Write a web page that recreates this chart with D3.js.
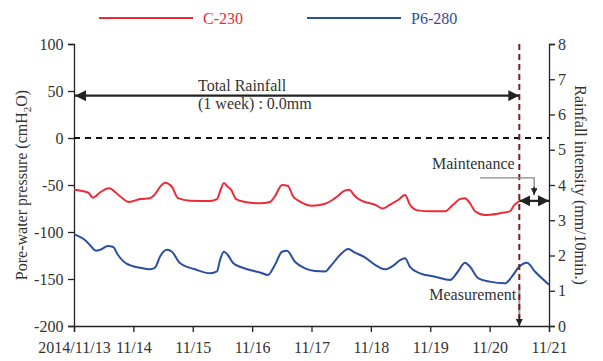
<!DOCTYPE html>
<html>
<head>
<meta charset="utf-8">
<script src="https://cdn.jsdelivr.net/npm/d3@7"></script>
<style>
  body { margin: 0; background: #fff; }
  text { font-family: "Liberation Serif", "DejaVu Serif", serif; }
</style>
</head>
<body>
<script>
// hours after 2014/11/13 00:00
const redHours = [0, 5.7, 7.7, 10.5, 14.1, 18.6, 22.2, 26.7, 30.7, 32.7, 34.8, 36.8, 39.6, 42, 46.9, 55, 57.8, 59, 60.6, 62.2, 63.5, 65.5, 69.1, 75.2, 79.2, 81.2, 84.1, 86.5, 88.5, 91.4, 96.2, 101.5, 105.5, 109.5, 111.2, 113.6, 116.4, 119.6, 121.7, 124.9, 127.7, 131, 133.8, 135.8, 139, 143.9, 150, 153.2, 156, 158, 160.1, 162.1, 166.1, 172.2, 176.2, 177.8, 180];
const redValues = [-55, -58, -63.5, -58, -53.5, -62, -68, -65, -64, -60, -52, -47.5, -52, -64, -66.7, -67, -65, -57, -48, -52, -55, -65, -68, -69.5, -68, -62, -50, -51, -62, -67.7, -72, -70, -64, -56, -55, -62, -67, -69.5, -71, -75, -71, -66, -60.6, -71, -77, -78, -78, -71, -65, -64, -69.5, -78, -82, -80, -78, -72, -67];

const blueHours = [0, 4.4, 6.5, 8.9, 10.5, 13.7, 15.8, 17.8, 21.4, 26.7, 30.7, 32.7, 34.8, 37.6, 39.6, 42.8, 48.9, 55, 57.8, 59, 60.6, 62.2, 64.3, 67.1, 71.1, 75.2, 78.4, 81.2, 84.1, 86.1, 89.3, 93.4, 97.4, 101.5, 103.5, 107.5, 110.8, 113.6, 117.6, 121.7, 125.7, 128.9, 131.8, 133.8, 135.8, 139.9, 145.9, 152, 155.2, 158, 160.1, 163.3, 168.1, 174.2, 177, 179.9, 183.1, 186.3, 192];
const blueValues = [-102.5, -108.5, -114, -120, -119, -115, -116, -124.5, -134, -138, -139.7, -138, -126, -119, -121, -133, -139.7, -144, -142, -130, -121, -124.5, -133, -137, -140.4, -143, -145.7, -135, -121, -120, -131.6, -138.6, -141.5, -142, -137, -124.5, -118, -122, -127, -135, -139.7, -136, -130, -128, -137, -144, -147.5, -151, -142, -132.6, -137, -149, -152.8, -154.6, -147.5, -137, -132.6, -142, -156];

const seriesNames = ["C-230", "P6-280"];
const seriesColors = ["#ee2a36", "#2a4ea1"];
const xTickLabels = ["2014/11/13", "11/14", "11/15", "11/16", "11/17", "11/18", "11/19", "11/20", "11/21"];
const leftTicks = [100, 50, 0, -50, -100, -150, -200];
const rightTicks = [0, 1, 2, 3, 4, 5, 6, 7, 8];

const measureHour = 180;   // 11/20 12:00
const rainArrowValue = 45;
const maintValue = 3.55;

const W = 603, H = 361;
const margin = {left: 74, right: 54, top: 44, bottom: 35};
const start = new Date(2014, 10, 13);
const toDate = h => new Date(start.getTime() + h * 3600000);

const x = d3.scaleTime().domain([start, new Date(2014, 10, 21)]).range([margin.left, W - margin.right]);
const y = d3.scaleLinear().domain([-200, 100]).range([H - margin.bottom, margin.top]);
const y2 = d3.scaleLinear().domain([0, 8]).range([H - margin.bottom, margin.top]);

const svg = d3.select("body").append("svg").attr("width", W).attr("height", H);

const defs = svg.append("defs");
function marker(id, color) {
  defs.append("marker").attr("id", id)
    .attr("viewBox", "0 0 10 10").attr("refX", 10).attr("refY", 5)
    .attr("markerWidth", 5).attr("markerHeight", 5).attr("orient", "auto-start-reverse")
    .attr("markerUnits", "strokeWidth")
    .append("path").attr("d", "M0,0 L10,5 L0,10 z").attr("fill", color);
}
marker("ah", "#222");

// axes
const xTicks = xTickLabels.map((d, i) => new Date(2014, 10, 13 + i));
const gx = svg.append("g").attr("transform", `translate(0,${H - margin.bottom})`)
  .call(d3.axisBottom(x).tickValues(xTicks).tickFormat((d, i) => xTickLabels[i]).tickSizeOuter(0).tickSize(6));
const gl = svg.append("g").attr("transform", `translate(${margin.left},0)`)
  .call(d3.axisLeft(y).tickValues(leftTicks).tickFormat(d => String(d)).tickSizeOuter(0).tickSize(6));
const gr = svg.append("g").attr("transform", `translate(${W - margin.right},0)`)
  .call(d3.axisRight(y2).tickValues(rightTicks).tickSizeOuter(0).tickSize(6));
[gx, gl, gr].forEach(g => {
  g.selectAll("path, line").attr("stroke", "#222").attr("stroke-width", 1.3);
  g.selectAll("text").attr("font-size", 16).attr("fill", "#333")
    .style("font-family", "'Liberation Serif', serif");
});
gx.selectAll("text").attr("dy", "1.1em");
gl.selectAll("text").attr("dx", "-0.1em");

// zero line
svg.append("line")
  .attr("x1", x.range()[0]).attr("x2", x.range()[1])
  .attr("y1", y(0)).attr("y2", y(0))
  .attr("stroke", "#111").attr("stroke-width", 1.8).attr("stroke-dasharray", "6,5");

// series
const line = d3.line().curve(d3.curveMonotoneX).x(d => x(toDate(d[0]))).y(d => y(d[1]));
[[redHours, redValues], [blueHours, blueValues]].forEach((s, i) => {
  svg.append("path")
    .datum(d3.zip(s[0], s[1]))
    .attr("fill", "none").attr("stroke", seriesColors[i]).attr("stroke-width", 2)
    .attr("stroke-linejoin", "round")
    .attr("d", line);
});

// measurement
const mx = x(toDate(measureHour));
svg.append("line").attr("x1", mx).attr("x2", mx).attr("y1", y(-158)).attr("y2", y(-200) - 1)
  .attr("stroke", "#999").attr("stroke-width", 2);
svg.append("line").attr("x1", mx).attr("x2", mx).attr("y1", y(100)).attr("y2", y(-200) - 8)
  .attr("stroke", "#7a1f22").attr("stroke-width", 2).attr("stroke-dasharray", "6,4");
svg.append("line").attr("x1", mx).attr("x2", mx).attr("y1", y(-190)).attr("y2", y(-200))
  .attr("stroke", "#222").attr("stroke-width", 1.5).attr("marker-end", "url(#ah)");
svg.append("text").attr("x", mx - 3).attr("y", y(-172)).attr("text-anchor", "end")
  .attr("font-size", 16).attr("fill", "#333").text("Measurement");

// total rainfall arrow
svg.append("line")
  .attr("x1", x.range()[0] + 1).attr("x2", mx)
  .attr("y1", y(rainArrowValue)).attr("y2", y(rainArrowValue))
  .attr("stroke", "#222").attr("stroke-width", 2.2)
  .attr("marker-start", "url(#ah)").attr("marker-end", "url(#ah)");
svg.append("text").attr("x", 198).attr("y", y(rainArrowValue) - 5)
  .attr("font-size", 16).attr("fill", "#333").text("Total Rainfall");
svg.append("text").attr("x", 198).attr("y", y(rainArrowValue) + 13)
  .attr("font-size", 16).attr("fill", "#333").text("(1 week) : 0.0mm");

// maintenance
const my = y2(maintValue);
svg.append("line").attr("x1", mx).attr("x2", x.range()[1])
  .attr("y1", my).attr("y2", my)
  .attr("stroke", "#222").attr("stroke-width", 2.2)
  .attr("marker-start", "url(#ah)").attr("marker-end", "url(#ah)");
const lx = (mx + x.range()[1]) / 2;
svg.append("polyline")
  .attr("points", `480,${y2(4.2)} ${lx},${y2(4.2)} ${lx},${y2(3.72)}`)
  .attr("fill", "none").attr("stroke", "#888").attr("stroke-width", 1.3);
svg.append("line").attr("x1", lx).attr("x2", lx).attr("y1", y2(3.95)).attr("y2", y2(3.72))
  .attr("stroke", "#222").attr("stroke-width", 1.3).attr("marker-end", "url(#ah)");
svg.append("text").attr("x", 432).attr("y", y2(4.4) - 2)
  .attr("font-size", 16).attr("fill", "#333").text("Maintenance");

// axis titles
const lt = svg.append("text").attr("transform", `translate(27,${(y(100) + y(-200)) / 2}) rotate(-90)`)
  .attr("text-anchor", "middle").attr("font-size", 16).attr("fill", "#333");
lt.append("tspan").text("Pore-water pressure (cmH");
lt.append("tspan").attr("font-size", 11).attr("dy", 4).text("2");
lt.append("tspan").attr("dy", -4).text("O)");
svg.append("text").attr("transform", `translate(575,${(y(100) + y(-200)) / 2}) rotate(90)`)
  .attr("text-anchor", "middle").attr("font-size", 16).attr("fill", "#333")
  .text("Rainfall intensity (mm/10min.)");

// legend
const legend = svg.append("g");
seriesNames.forEach((n, i) => {
  const lx0 = 99 + i * 208;
  legend.append("line").attr("x1", lx0).attr("x2", lx0 + 94).attr("y1", 18).attr("y2", 18)
    .attr("stroke", seriesColors[i]).attr("stroke-width", 2);
  legend.append("text").attr("x", lx0 + 104).attr("y", 24)
    .attr("font-size", 16).attr("fill", seriesColors[i]).text(n);
});
</script>
</body>
</html>
